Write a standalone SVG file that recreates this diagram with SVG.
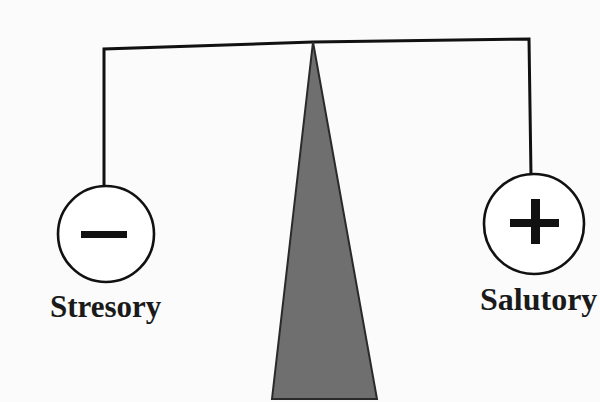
<svg xmlns="http://www.w3.org/2000/svg" width="600" height="402" viewBox="0 0 600 402">
<style>
.wire{fill:none;stroke:#111;stroke-width:3;stroke-linejoin:miter}
.ring{fill:#fff;stroke:#111;stroke-width:2.6}
.sign{fill:#111}
.lbl{font-family:"Liberation Serif","Times New Roman",serif;font-weight:bold;fill:#1a1a1a}
</style>
<rect width="600" height="402" fill="#fbfbfb"/>
<g id="connectors">
<polyline class="wire" points="104,186 104,49 313,42 529,39 531,176"/>
</g>
<g id="fulcrum">
<polygon points="313,42 377,399 272,399" fill="#6f6f6f" stroke="#2a2a2a" stroke-width="2"/>
</g>
<g id="stresory">
<circle class="ring" cx="106" cy="234" r="48"/>
<rect class="sign" x="81" y="231" width="46" height="7"/>
<text class="lbl" x="50" y="317" font-size="31">Stresory</text>
</g>
<g id="salutory">
<circle class="ring" cx="534" cy="224" r="50"/>
<rect class="sign" x="510" y="219" width="49" height="8"/>
<rect class="sign" x="531" y="199" width="9" height="45"/>
<text class="lbl" x="480" y="310" font-size="32">Salutory</text>
</g>
</svg>
